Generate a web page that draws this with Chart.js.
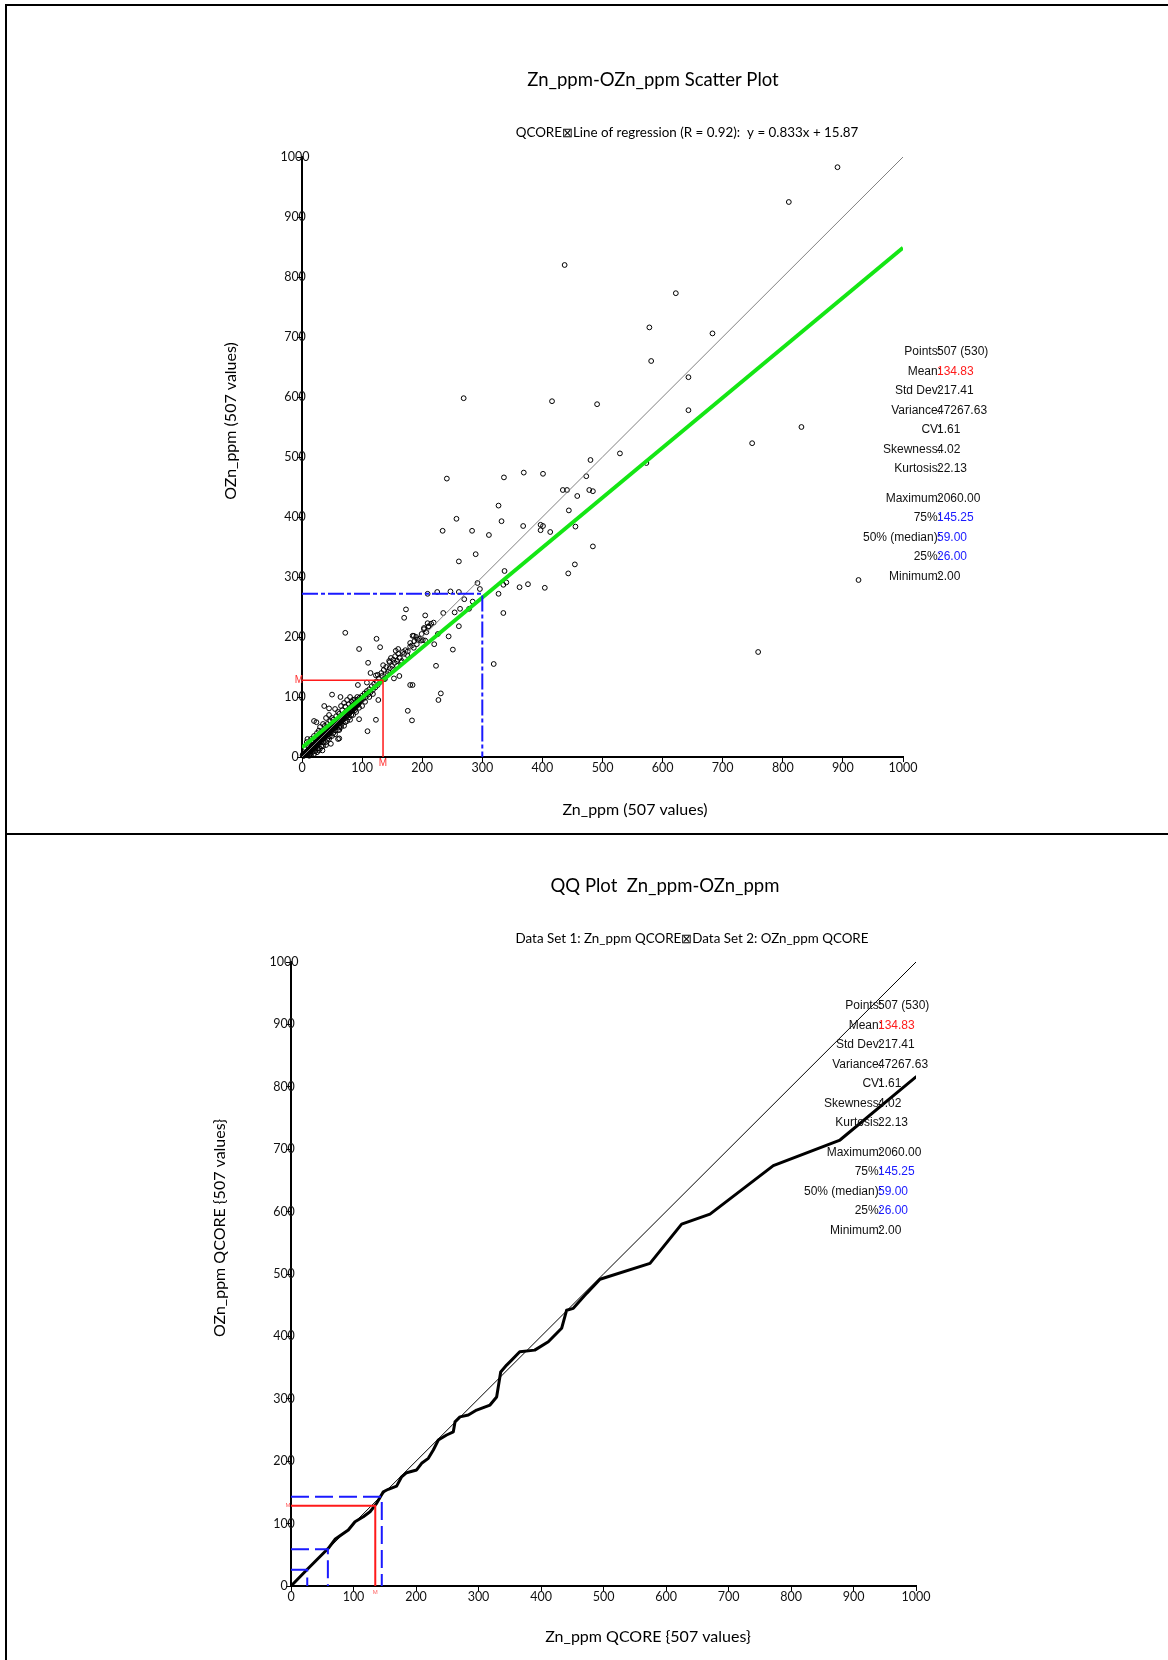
<!DOCTYPE html>
<html>
<head>
<meta charset="utf-8">
<title>Zn_ppm-OZn_ppm</title>
<script src="https://cdn.jsdelivr.net/npm/chart.js@4.4.1/dist/chart.umd.min.js"></script>
<style>
  html, body { margin: 0; padding: 0; background: #fff; }
  #page { position: relative; width: 1168px; height: 1660px; overflow: hidden; }
  .panel { position: absolute; left: 0; width: 1168px; }
  #top { top: 0; height: 833px; }
  #bottom { top: 835px; height: 825px; }
  .rule { position: absolute; background: #000; }
</style>
</head>
<body>
<div id="page">
  <div class="panel" id="top"><canvas id="scatterChart" width="1168" height="833"></canvas></div>
  <div class="panel" id="bottom"><canvas id="qqChart" width="1168" height="825"></canvas></div>
  <div class="rule" style="left:5px;top:4px;width:1163px;height:2px"></div>
  <div class="rule" style="left:5px;top:4px;width:2px;height:1656px"></div>
  <div class="rule" style="left:5px;top:833px;width:1163px;height:2px"></div>
</div>
<script>
// ---- data ----
// Zn_ppm (x) vs OZn_ppm (y) sample pairs
const znPairs = [
  [891,983],[810,925],[437,820],[622,773],[578,716],[683,706],[581,660],[643,633],[269,598],[416,593],
  [491,588],[643,578],[831,550],[749,523],[529,506],[480,495],[573,490],[241,464],[926,295],[759,175],
  [336,466],[369,474],[401,472],[473,468],[327,419],[434,445],[441,445],[478,445],[484,443],[458,435],
  [444,411],[332,393],[368,385],[397,387],[401,385],[397,378],[413,375],[455,384],[484,351],[337,310],
  [454,321],[443,306],[335,287],[340,291],[362,283],[376,288],[404,282],
  [257,397],[234,377],[283,377],[311,370],[261,326],[289,338],[292,290],[296,280],[327,272],[335,240],
  [319,155],[209,272],[225,275],[247,276],[261,275],[270,263],[284,259],[278,247],[263,247],[254,241],
  [235,240],[261,218],[244,201],[251,179],[223,152],[226,205],[220,188],[173,246],[170,232],[205,236],
  [209,223],[210,217],[203,215],[201,195],[205,194],[191,188],[184,202],[186,202],[72,207],[95,180],
  [124,197],[130,183],[160,180],[156,177],[110,157],[135,153],[146,158],[180,120],[184,120],[176,77],
  [183,61],[231,106],[227,95],[123,62],[109,43],[127,95],[108,106],[93,120],[153,131],[162,135],
  [50,104],[64,100],[37,85],[45,81],[24,58],[9,30],[34,11],[62,31],[62,45],[95,63],
  [126,137],[108,124],[114,140],[123,136],
  [140,150],[145,160],[148,165],[152,162],[155,168],[158,160],[160,172],[163,166],[165,158],[168,175],
  [172,178],[176,176],[180,190],[183,186],[187,193],[190,200],[195,197],[199,205],[203,213],[207,208],
  [211,218],[215,222],[219,224],[132,140],[136,145],[142,138],[146,148],[150,152],[138,130],[144,142],
  [2,2],[3,5],[4,3],[5,6],[6,4],[7,8],[8,6],[9,9],[10,7],[11,12],[12,10],[13,9],[14,14],[15,12],
  [16,17],[17,13],[18,16],[19,19],[20,15],[21,20],[22,18],[23,24],[24,21],[25,19],[26,26],[27,23],
  [28,27],[29,24],[30,30],[31,28],[32,26],[33,33],[34,29],[35,35],[36,31],[37,38],[38,34],[39,36],
  [40,42],[41,37],[42,40],[43,44],[44,38],[45,46],[46,43],[47,41],[48,49],[49,45],[50,52],[51,47],
  [52,50],[53,55],[54,48],[55,53],[56,58],[57,52],[58,56],[59,60],[60,55],[61,62],[62,57],[63,65],
  [64,60],[65,63],[66,68],[67,61],[68,66],[69,70],[70,64],[71,69],[72,74],[73,67],[74,72],[75,77],
  [76,70],[77,75],[78,80],[79,73],[80,78],[81,83],[82,76],[83,81],[84,86],[85,79],[86,84],[87,88],
  [88,82],[89,87],[90,92],[91,85],[92,90],[93,96],[94,88],[95,93],[96,99],[98,94],[100,102],[102,97],
  [104,106],[106,100],[108,110],[110,104],[112,113],[114,108],[116,118],[118,112],[120,122],[122,116],
  [124,126],[126,120],[128,131],[130,125],[133,135],[136,130],[143,138],[150,146],[154,157],[158,152],
  [162,165],[166,160],[170,172],[175,170],[180,184],[186,182],[192,196],[198,194],
  [20,5],[30,14],[35,18],[40,25],[45,30],[50,35],[55,38],[60,45],[65,50],[70,52],[75,60],[80,62],
  [85,70],[90,75],[100,85],[15,3],[25,8],[28,11],[12,2],[40,20],[60,30],[48,22],
  [8,25],[15,30],[20,35],[25,40],[30,50],[35,55],[20,60],[40,65],[45,70],[55,80],[60,75],[70,90],
  [75,95],[80,100],[85,95],[65,85],[50,65],[38,52],[28,44],[10,18],[5,15],[18,28],
  [1,3],[2,5],[3,2],[4,6],[5,4],[6,7],[7,5],[8,9],[9,7],[10,11],[11,9],[12,13],[13,11],[14,12],
  [15,16],[16,14],[17,18],[18,15],[19,17],[20,21],[21,18],[22,22],[23,20],[24,25],[25,22],[26,24],
  [27,28],[28,25],[29,29],[30,27],[31,32],[32,29],[33,31],[34,35],[35,32],[36,34],[37,35],[38,39],
  [39,34],[40,38],[41,43],[42,38],[43,41],[44,45],[45,41],[46,47],[47,44],[48,45],[49,50],[50,46],
  [51,52],[52,48],[53,51],[54,56],[55,50],[56,54],[57,57],[58,53],[59,57],[60,61],[61,56],[62,60],
  [63,62],[64,58],[65,66],[66,61],[67,64],[68,69],[69,63],[70,68],[72,70],[74,69],[76,74],[78,72],
  [80,76],[82,80],[84,78],[86,82],[88,85],[90,86],[92,88],[94,91],[96,92],[98,97],
  [10,4],[14,6],[18,9],[22,10],[26,14],[32,18],[36,24],[42,30],[46,34],[52,40],[56,44],[62,50],
  [66,55],[72,58],[78,66],[82,70],[88,78],[95,82],[105,92],[112,100],[118,105],[22,30],[27,35],
  [33,42],[42,55],[47,60],[52,62],[57,68],[62,72],[67,78],[72,84],[78,88],[83,92],[88,96],[92,100],
  [12,22],[16,26]
];

// regression line from the subtitle
const regSlope = 0.833;
const regIntercept = 15.87;

// mean guide (Zn mean, OZn mean) and blue reference guide in the scatter
const meanZn = 134.83;
const meanOZn = 128;
const guideX = 300;
const guideY = 272;

// QQ curve: Zn_ppm quantiles vs OZn_ppm quantiles
const qqX = [2, 25, 59.7, 70.4, 91.7, 102.4, 115.7, 126.4, 137, 147.7, 155.7, 169, 177, 185, 201, 209,
  219.7, 227.7, 235.7, 249, 259.7, 262.4, 270.4, 283.7, 297, 318.4, 329, 335.5, 345, 353, 366, 390,
  411.7, 433, 441, 451.7, 473, 494.4, 574.4, 625, 670.4, 771.7, 878.4, 1000];
const qqY = [2, 25.6, 60.4, 74.8, 89.7, 103, 111, 119, 132.5, 151, 155, 160, 175, 181.6, 186, 196.6,
  204.6, 218, 234, 242, 247, 263, 271, 274, 282, 290, 303, 343, 354, 362, 375.5, 378,
  391.5, 413, 442, 445, 469, 491.5, 517, 580, 596, 673.6, 714.7, 816];

// quartile guides (25%, 50%, 75%)
const quartX = [26, 59, 145.25];
const quartY = [26, 59, 143];
const qqMeanY = 128.7;

// summary statistics
const statLabels = ['Points:', 'Mean:', 'Std Dev:', 'Variance:', 'CV:', 'Skewness:', 'Kurtosis:',
  'Maximum:', '75%:', '50% (median):', '25%:', 'Minimum:'];
const statValues = ['507 (530)', '134.83', '217.41', '47267.63', '1.61', '4.02', '22.13',
  '2060.00', '145.25', '59.00', '26.00', '2.00'];

const axisMin = 0;
const axisMax = 1000;
const axisStep = 100;

// ---- drawing ----
const TICK_FONT = { family: 'Lato', size: 12.5 };

function pts(xs, ys) { return xs.map((x, i) => ({ x, y: ys[i] })); }

function axis(isX) {
  const a = {
    type: 'linear', min: axisMin, max: axisMax,
    ticks: { stepSize: axisStep, autoSkip: false, maxRotation: 0, color: '#111', font: TICK_FONT,
      callback: v => String(v) },
    grid: { display: true, drawOnChartArea: false, drawTicks: true, tickLength: 5, color: '#000', lineWidth: 1 },
    border: { display: true, color: '#000', width: 2 }
  };
  if (isX) {
    a.ticks.padding = -2;
    a.afterFit = s => { s.height = 30; };
  } else {
    // y labels sit across the axis line, drawn in textLayer
    a.ticks.display = false;
    a.afterFit = s => { s.width = 40; };
  }
  return a;
}

function line(data, color, width, dash) {
  return { data, showLine: true, borderColor: color, borderWidth: width, borderDash: dash || [],
    pointRadius: 0, fill: false, tension: 0, order: 1 };
}

// titles, axis names, y tick labels, stats block and the little "M" markers
const textLayer = {
  id: 'textLayer',
  afterDraw(chart, args, o) {
    const ctx = chart.ctx;
    const xs = chart.scales.x, ys = chart.scales.y;
    ctx.save();
    ctx.textBaseline = 'middle';
    ctx.fillStyle = '#000';
    ctx.textAlign = 'center';
    ctx.font = '18.5px Lato';
    ctx.fillText(o.title[0], o.title[1], o.title[2]);
    ctx.font = '13.4px Lato';
    ctx.fillText(o.subtitle[0], o.subtitle[1], o.subtitle[2]);
    ctx.font = '16px Lato';
    ctx.fillText(o.xTitle[0], o.xTitle[1], o.xTitle[2]);
    ctx.save();
    ctx.translate(o.yTitle[1], o.yTitle[2]);
    ctx.rotate(-Math.PI / 2);
    ctx.fillText(o.yTitle[0], 0, 0);
    ctx.restore();

    // y tick labels from the scale's own ticks
    ctx.font = TICK_FONT.size + 'px ' + TICK_FONT.family;
    ctx.fillStyle = '#111';
    ys.ticks.forEach(t => {
      ctx.fillText(String(t.value), ys.right - 7, ys.getPixelForValue(t.value));
    });

    // stats block: labels right aligned, values left aligned
    ctx.font = '12px "Liberation Sans", Arial, sans-serif';
    statLabels.forEach((lab, i) => {
      const y = o.stats.y + i * 19.5 + (i >= 7 ? 10 : 0);
      ctx.fillStyle = '#111';
      ctx.textAlign = 'right';
      ctx.fillText(lab, o.stats.x + 4, y);
      ctx.fillStyle = i === 1 ? '#ff1a1a' : (i >= 8 && i <= 10 ? '#1a1aff' : '#111');
      ctx.textAlign = 'left';
      ctx.fillText(statValues[i], o.stats.x, y);
    });

    // mean markers
    ctx.fillStyle = o.mColor;
    ctx.font = o.mFont;
    ctx.textAlign = 'center';
    ctx.fillText('M', xs.left - 3, ys.getPixelForValue(o.meanY));
    ctx.fillText('M', xs.getPixelForValue(meanZn), ys.bottom + 6);
    ctx.restore();
  }
};

const common = {
  responsive: false,
  animation: false,
  devicePixelRatio: 1,
  plugins: { legend: { display: false }, tooltip: { enabled: false }, title: { display: false } }
};

// scatter plot
new Chart(document.getElementById('scatterChart'), {
  type: 'scatter',
  data: {
    datasets: [
      line(pts([0, meanZn, meanZn], [meanOZn, meanOZn, 0]), '#ff1a1a', 1.5),
      line(pts([0, guideX, guideX], [guideY, guideY, 0]), '#1a1aff', 2, [16, 3, 4, 3]),
      line(pts([0, 1000], [0, 1000].map(x => regSlope * x + regIntercept)), '#14e614', 4),
      line(pts([0, 1000], [0, 1000]), '#808080', 1),
      {
        data: znPairs.map(([x, y]) => ({ x, y })),
        pointRadius: 2.4, pointBorderWidth: 1, pointBorderColor: '#000',
        pointBackgroundColor: 'rgba(255,255,255,0)',
        showLine: false, clip: false, order: 5
      }
    ]
  },
  options: Object.assign({}, common, {
    layout: { padding: { left: 262, right: 265, top: 157, bottom: 46 } },
    scales: { x: axis(true), y: axis(false) },
    plugins: Object.assign({}, common.plugins, {
      textLayer: {
        title: ['Zn_ppm-OZn_ppm Scatter Plot', 653, 80],
        subtitle: ['QCORE\u22A0Line of regression (R = 0.92):  y = 0.833x + 15.87', 687, 133],
        xTitle: ['Zn_ppm (507 values)', 635, 810],
        yTitle: ['OZn_ppm (507 values)', 231, 421],
        stats: { x: 937, y: 352 },
        meanY: meanOZn,
        mColor: '#ff3030', mFont: '10px "Liberation Sans", Arial, sans-serif'
      }
    })
  }),
  plugins: [textLayer]
});

// QQ plot
const quartLines = quartX.map((qx, i) =>
  line(pts([0, qx, qx], [quartY[i], quartY[i], 0]), '#1a1aff', 2, [18, 6]));

new Chart(document.getElementById('qqChart'), {
  type: 'scatter',
  data: {
    datasets: [
      line(pts([0, meanZn, meanZn], [qqMeanY, qqMeanY, 0]), '#ff1a1a', 2),
      ...quartLines,
      Object.assign(line(pts(qqX, qqY), '#000', 3), { borderJoinStyle: 'round', borderCapStyle: 'round' }),
      line(pts([0, 1000], [0, 1000]), '#000', 1)
    ]
  },
  options: Object.assign({}, common, {
    layout: { padding: { left: 251, right: 252, top: 127, bottom: 44 } },
    scales: { x: axis(true), y: axis(false) },
    plugins: Object.assign({}, common.plugins, {
      textLayer: {
        title: ['QQ Plot  Zn_ppm-OZn_ppm', 665, 51],
        subtitle: ['Data Set 1: Zn_ppm QCORE\u22A0Data Set 2: OZn_ppm QCORE', 692, 104],
        xTitle: ['Zn_ppm QCORE {507 values}', 648, 802],
        yTitle: ['OZn_ppm QCORE {507 values}', 220, 393],
        stats: { x: 878, y: 171 },
        meanY: qqMeanY,
        mColor: '#ff6060', mFont: '6px "Liberation Sans", Arial, sans-serif'
      }
    })
  }),
  plugins: [textLayer]
});
</script>
</body>
</html>
